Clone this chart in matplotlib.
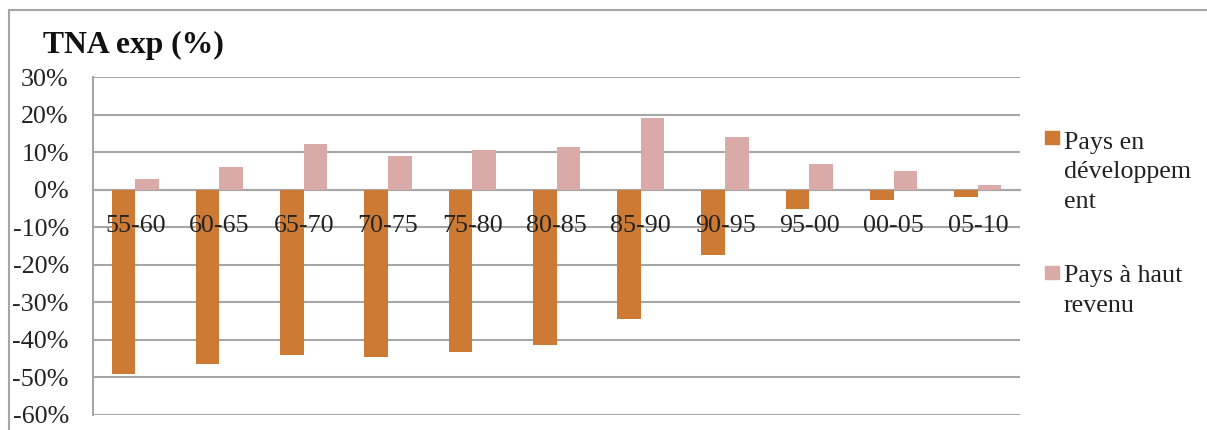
import matplotlib.pyplot as plt
import numpy as np
from matplotlib.lines import Line2D
from matplotlib.patches import Rectangle

periods = ["55-60", "60-65", "65-70", "70-75", "75-80", "80-85",
           "85-90", "90-95", "95-00", "00-05", "05-10"]
pays_dev = [-49.0, -46.5, -44.1, -44.5, -43.2, -41.3, -34.5, -17.4, -5.1, -2.8, -2.0]
pays_haut = [2.8, 6.1, 12.2, 9.0, 10.5, 11.3, 19.1, 14.1, 6.8, 5.1, 1.3]
yticks = [30, 20, 10, 0, -10, -20, -30, -40, -50, -60]
labels = ["Pays en\ndéveloppem\nent", "Pays à haut\nrevenu"]
colors = ['#CD7A34', '#D9AAA8']

plt.rcParams['font.family'] = ['Liberation Serif', 'DejaVu Serif']

fig = plt.figure(figsize=(12.07, 4.30), dpi=100)
ax = fig.add_axes([0.0771, 0.0349, 0.768, 0.786])

x = np.arange(len(periods))
w = 0.28
ax.bar(x - w / 2, pays_dev, w, color=colors[0], zorder=3)
ax.bar(x + w / 2, pays_haut, w, color=colors[1], zorder=3)

ax.set_xlim(-0.5, len(periods) - 0.5)
ax.set_ylim(-60, 30)
ax.set_yticks(yticks)
ax.set_yticklabels([f"{v}%" for v in yticks])
ax.set_xticks([])

# category labels sit just under the zero line, above the bars
for xi, p in zip(x, periods):
    ax.text(xi, -11.2, p, ha='center', va='baseline', fontsize=18.7,
            color='#222222', zorder=5)

ax.grid(axis='y', color='#A6A6A6', lw=1.5, zorder=0)
ax.set_axisbelow(True)
ax.spines['top'].set_visible(False)
ax.spines['right'].set_visible(False)
ax.spines['bottom'].set_position(('data', 0))
ax.spines['bottom'].set_color('#A6A6A6')
ax.spines['bottom'].set_linewidth(1.5)
ax.spines['left'].set_color('#A6A6A6')
ax.spines['left'].set_linewidth(1.5)
ax.tick_params(axis='both', length=0, labelsize=18.7, labelcolor='#222222')
ax.tick_params(axis='y', pad=17.5)

# legend drawn by hand: square next to the first line of each label
# (pixel positions from the top of the figure)
sq_top = [131, 266]
first_base = [148, 282]
line_px = 30
for lab, col, st, fb in zip(labels, colors, sq_top, first_base):
    fig.add_artist(Rectangle((1045 / 1207, 1 - (st + 13) / 430), 14 / 1207, 13 / 430,
                             color=col, transform=fig.transFigure))
    n = lab.count("\n")
    last_base = fb + n * line_px
    fig.text(1064 / 1207, 1 - last_base / 430, lab, fontsize=18.7,
             va='baseline', ha='left', linespacing=1.45, color='#222222')

fig.text(0.0356, 0.895, "TNA exp (%)", fontsize=22.8, fontweight='bold',
         va='center', ha='left', color='#111111')

# chart border (top and left only visible in the crop)
fig.add_artist(Line2D([0.0075, 1.0], [0.977, 0.977], color='#A6A6A6', lw=1.5,
                      transform=fig.transFigure))
fig.add_artist(Line2D([0.0075, 0.0075], [0.0, 0.977], color='#A6A6A6', lw=1.5,
                      transform=fig.transFigure))

fig.savefig("out.png", dpi=100)
